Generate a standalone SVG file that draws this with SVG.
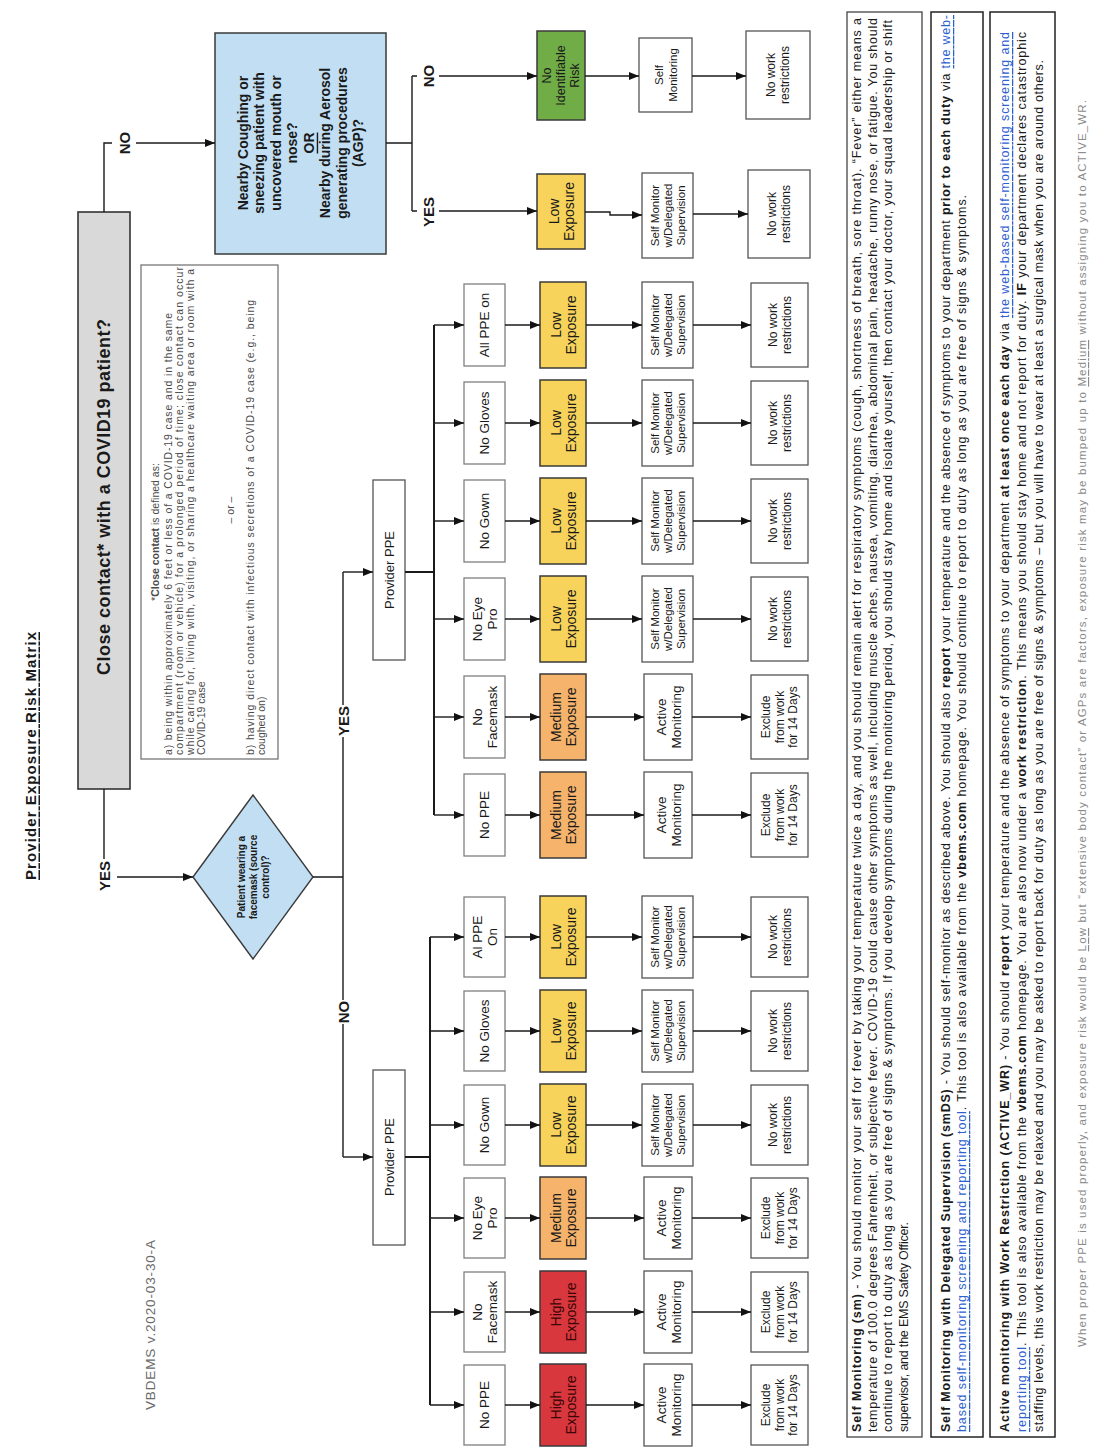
<svg xmlns="http://www.w3.org/2000/svg" width="1106" height="1456" viewBox="0 0 1106 1456">
<defs>
<marker id="ah" viewBox="0 0 10 8" refX="10" refY="4" markerWidth="10" markerHeight="8" markerUnits="userSpaceOnUse" orient="auto"><path d="M0,0 L10,4 L0,8 z" fill="#111"/></marker>
<style>
text{font-family:"Liberation Sans",Arial,sans-serif;fill:#1a1a1a;dominant-baseline:central}
.c{text-anchor:middle}
.ln{fill:none;stroke:#1a1a1a;stroke-width:1.4}
.arr{marker-end:url(#ah)}
.cond{fill:#fff;stroke:#7f7f7f;stroke-width:1.3}
.mon{fill:#fff;stroke:#555;stroke-width:1.3}
.low{fill:#f7d35b;stroke:#3a3a3a;stroke-width:1.5}
.med{fill:#f5b36b;stroke:#3a3a3a;stroke-width:1.5}
.high{fill:#d8373d;stroke:#3a3a3a;stroke-width:1.5}
.green{fill:#70ad47;stroke:#3a3a3a;stroke-width:1.5}
.blue{fill:#c2def3;stroke:#3a3a3a;stroke-width:1.5}
.fc{font-size:13.5px}
.fe{font-size:14px}
.fa{font-size:13.5px}
.fs{font-size:11.5px}
.fr{font-size:12px}
.lab{font-size:15px;font-weight:bold}
.b{font-weight:bold}
.u{text-decoration:underline}
.note{font-size:10.5px;fill:#4a4a4a}
.doc{font-size:12.5px;fill:#1a1a1a}
.lnk{fill:#2f5fd0;text-decoration:underline}
.ht{fill:#3a0606}
</style>
</defs>
<rect x="0" y="0" width="1106" height="1456" fill="#fff"/>

<!-- Title and version -->
<g id="title"><text class="c b u" style="font-size:15px" transform="translate(30,756) rotate(-90)" textLength="248" lengthAdjust="spacing">Provider Exposure Risk Matrix</text></g>
<g id="version"><text class="c" style="font-size:13.5px;fill:#6a6a6a" transform="translate(150,1325) rotate(-90)" textLength="170" lengthAdjust="spacing">VBDEMS v.2020-03-30-A</text></g>

<!-- Main question -->
<g id="n-close"><rect x="78" y="212" width="52" height="577" fill="#d9d9d9" stroke="#333" stroke-width="1.6"/>
<text class="c b" style="font-size:18px" transform="translate(104,497) rotate(-90)" textLength="356" lengthAdjust="spacing">Close contact* with a COVID19 patient?</text></g>

<!-- Definition note -->
<g id="n-note"><rect x="141" y="265" width="137" height="494" fill="#fff" stroke="#777" stroke-width="1.3"/>
<text class="c note" transform="translate(155,532) rotate(-90)">*<tspan class="b">Close contact</tspan> is defined as:</text>
<text class="note" transform="translate(168,755) rotate(-90)" textLength="442" lengthAdjust="spacing">a) being within approximately 6 feet or less of a COVID-19 case and in the same</text>
<text class="note" transform="translate(179,755) rotate(-90)" textLength="488" lengthAdjust="spacing">compartment (room or vehicle) for a prolonged period of time; close contact can occur</text>
<text class="note" transform="translate(190,755) rotate(-90)" textLength="486" lengthAdjust="spacing">while caring for, living with, visiting, or sharing a healthcare waiting area or room with a</text>
<text class="note" transform="translate(201,755) rotate(-90)">COVID-19 case</text>
<text class="c note" transform="translate(230,510) rotate(-90)">– or –</text>
<text class="note" transform="translate(250,755) rotate(-90)" textLength="455" lengthAdjust="spacing">b) having direct contact with infectious secretions of a COVID-19 case (e.g., being</text>
<text class="note" transform="translate(261,755) rotate(-90)">coughed on)</text></g>

<!-- Nearby question -->
<g id="n-nearby"><rect class="blue" x="215" y="33" width="171" height="221"/>
<text class="c b" style="font-size:14px" transform="translate(300.5,143) rotate(-90)"><tspan x="0" y="-57.75">Nearby Coughing or</tspan><tspan x="0" y="-41.25">sneezing patient with</tspan><tspan x="0" y="-24.75">uncovered mouth or</tspan><tspan x="0" y="-8.25">nose?</tspan><tspan x="0" y="8.25" class="u">OR</tspan><tspan x="0" y="24.75">Nearby during Aerosol</tspan><tspan x="0" y="41.25">generating procedures</tspan><tspan x="0" y="57.75">(AGP)?</tspan></text></g>

<!-- Facemask diamond -->
<g id="n-diamond"><polygon points="193,877 253,795 313,877 253,959" fill="#c2def3" stroke="#3a3a3a" stroke-width="1.4"/>
<text class="c b" style="font-size:10px" transform="translate(253,877) rotate(-90)"><tspan x="0" y="-12">Patient wearing a</tspan><tspan x="0" y="0">facemask (source</tspan><tspan x="0" y="12">control)?</tspan></text></g>

<!-- Nearby outcomes -->
<g id="n-nir"><rect class="green" x="537" y="31" width="48" height="89"/>
<text class="c" style="font-size:12.5px" transform="translate(561,75.5) rotate(-90)"><tspan x="0" y="-14">No</tspan><tspan x="0" y="0">Identifiable</tspan><tspan x="0" y="14">Risk</tspan></text></g>
<g id="n-selfmon"><rect class="mon" x="639" y="38" width="53" height="74"/>
<text class="c fs" transform="translate(665.5,75) rotate(-90)"><tspan x="0" y="-7">Self</tspan><tspan x="0" y="7">Monitoring</tspan></text></g>
<g id="n-nowork-a"><rect class="mon" x="746" y="31" width="64" height="88"/>
<text class="c fr" transform="translate(778,75) rotate(-90)"><tspan x="0" y="-7">No work</tspan><tspan x="0" y="7">restrictions</tspan></text></g>
<g id="n-low-a"><rect class="low" x="537" y="174" width="48" height="75"/>
<text class="c fe" transform="translate(561,211.5) rotate(-90)"><tspan x="0" y="-7.5">Low</tspan><tspan x="0" y="7.5">Exposure</tspan></text></g>
<g id="n-smds-a"><rect class="mon" x="642" y="173" width="51" height="85"/>
<text class="c fs" transform="translate(667.5,215.5) rotate(-90)"><tspan x="0" y="-13">Self Monitor</tspan><tspan x="0" y="0">w/Delegated</tspan><tspan x="0" y="13">Supervision</tspan></text></g>
<g id="n-nowork-b"><rect class="mon" x="748" y="170" width="62" height="88"/>
<text class="c fr" transform="translate(779,214) rotate(-90)"><tspan x="0" y="-7">No work</tspan><tspan x="0" y="7">restrictions</tspan></text></g>

<!-- Provider PPE boxes -->
<g id="n-ppe-yes"><rect class="mon" x="373" y="480" width="32" height="180"/>
<text class="c" style="font-size:13px" transform="translate(389,570) rotate(-90)">Provider PPE</text></g>
<g id="n-ppe-no"><rect class="mon" x="373" y="1070" width="32" height="175"/>
<text class="c" style="font-size:13px" transform="translate(389,1157) rotate(-90)">Provider PPE</text></g>

<!-- YES branch rows -->
<g id="y1-cond"><rect class="cond" x="464" y="284" width="41" height="82"/><text class="c fc" transform="translate(484.5,325) rotate(-90)">All PPE on</text></g>
<g id="y1-exp"><rect class="low" x="540" y="282" width="46" height="86"/><text class="c fe" transform="translate(563,325) rotate(-90)"><tspan x="0" y="-7.5">Low</tspan><tspan x="0" y="7.5">Exposure</tspan></text></g>
<g id="y1-mon"><rect class="mon" x="642" y="282" width="51" height="86"/><text class="c fs" transform="translate(667.5,325) rotate(-90)"><tspan x="0" y="-13">Self Monitor</tspan><tspan x="0" y="0">w/Delegated</tspan><tspan x="0" y="13">Supervision</tspan></text></g>
<g id="y1-res"><rect class="mon" x="751" y="283" width="57" height="84"/><text class="c fr" transform="translate(779.5,325) rotate(-90)"><tspan x="0" y="-7">No work</tspan><tspan x="0" y="7">restrictions</tspan></text></g>

<g id="y2-cond"><rect class="cond" x="464" y="382" width="41" height="82"/><text class="c fc" transform="translate(484.5,423) rotate(-90)">No Gloves</text></g>
<g id="y2-exp"><rect class="low" x="540" y="380" width="46" height="86"/><text class="c fe" transform="translate(563,423) rotate(-90)"><tspan x="0" y="-7.5">Low</tspan><tspan x="0" y="7.5">Exposure</tspan></text></g>
<g id="y2-mon"><rect class="mon" x="642" y="380" width="51" height="86"/><text class="c fs" transform="translate(667.5,423) rotate(-90)"><tspan x="0" y="-13">Self Monitor</tspan><tspan x="0" y="0">w/Delegated</tspan><tspan x="0" y="13">Supervision</tspan></text></g>
<g id="y2-res"><rect class="mon" x="751" y="381" width="57" height="84"/><text class="c fr" transform="translate(779.5,423) rotate(-90)"><tspan x="0" y="-7">No work</tspan><tspan x="0" y="7">restrictions</tspan></text></g>

<g id="y3-cond"><rect class="cond" x="464" y="480" width="41" height="82"/><text class="c fc" transform="translate(484.5,521) rotate(-90)">No Gown</text></g>
<g id="y3-exp"><rect class="low" x="540" y="478" width="46" height="86"/><text class="c fe" transform="translate(563,521) rotate(-90)"><tspan x="0" y="-7.5">Low</tspan><tspan x="0" y="7.5">Exposure</tspan></text></g>
<g id="y3-mon"><rect class="mon" x="642" y="478" width="51" height="86"/><text class="c fs" transform="translate(667.5,521) rotate(-90)"><tspan x="0" y="-13">Self Monitor</tspan><tspan x="0" y="0">w/Delegated</tspan><tspan x="0" y="13">Supervision</tspan></text></g>
<g id="y3-res"><rect class="mon" x="751" y="479" width="57" height="84"/><text class="c fr" transform="translate(779.5,521) rotate(-90)"><tspan x="0" y="-7">No work</tspan><tspan x="0" y="7">restrictions</tspan></text></g>

<g id="y4-cond"><rect class="cond" x="464" y="578" width="41" height="82"/><text class="c fc" transform="translate(484.5,619) rotate(-90)"><tspan x="0" y="-7.5">No Eye</tspan><tspan x="0" y="7.5">Pro</tspan></text></g>
<g id="y4-exp"><rect class="low" x="540" y="576" width="46" height="86"/><text class="c fe" transform="translate(563,619) rotate(-90)"><tspan x="0" y="-7.5">Low</tspan><tspan x="0" y="7.5">Exposure</tspan></text></g>
<g id="y4-mon"><rect class="mon" x="642" y="576" width="51" height="86"/><text class="c fs" transform="translate(667.5,619) rotate(-90)"><tspan x="0" y="-13">Self Monitor</tspan><tspan x="0" y="0">w/Delegated</tspan><tspan x="0" y="13">Supervision</tspan></text></g>
<g id="y4-res"><rect class="mon" x="751" y="577" width="57" height="84"/><text class="c fr" transform="translate(779.5,619) rotate(-90)"><tspan x="0" y="-7">No work</tspan><tspan x="0" y="7">restrictions</tspan></text></g>

<g id="y5-cond"><rect class="cond" x="464" y="676" width="41" height="82"/><text class="c fc" transform="translate(484.5,717) rotate(-90)"><tspan x="0" y="-7.5">No</tspan><tspan x="0" y="7.5">Facemask</tspan></text></g>
<g id="y5-exp"><rect class="med" x="540" y="674" width="46" height="86"/><text class="c fe" transform="translate(563,717) rotate(-90)"><tspan x="0" y="-7.5">Medium</tspan><tspan x="0" y="7.5">Exposure</tspan></text></g>
<g id="y5-mon"><rect class="mon" x="644" y="674" width="48" height="86"/><text class="c fa" transform="translate(668,717) rotate(-90)"><tspan x="0" y="-7.5">Active</tspan><tspan x="0" y="7.5">Monitoring</tspan></text></g>
<g id="y5-res"><rect class="mon" x="751" y="675" width="57" height="84"/><text class="c fr" transform="translate(779.5,717) rotate(-90)"><tspan x="0" y="-13.5">Exclude</tspan><tspan x="0" y="0">from work</tspan><tspan x="0" y="13.5">for 14 Days</tspan></text></g>

<g id="y6-cond"><rect class="cond" x="464" y="774" width="41" height="82"/><text class="c fc" transform="translate(484.5,815) rotate(-90)">No PPE</text></g>
<g id="y6-exp"><rect class="med" x="540" y="772" width="46" height="86"/><text class="c fe" transform="translate(563,815) rotate(-90)"><tspan x="0" y="-7.5">Medium</tspan><tspan x="0" y="7.5">Exposure</tspan></text></g>
<g id="y6-mon"><rect class="mon" x="644" y="772" width="48" height="86"/><text class="c fa" transform="translate(668,815) rotate(-90)"><tspan x="0" y="-7.5">Active</tspan><tspan x="0" y="7.5">Monitoring</tspan></text></g>
<g id="y6-res"><rect class="mon" x="751" y="773" width="57" height="84"/><text class="c fr" transform="translate(779.5,815) rotate(-90)"><tspan x="0" y="-13.5">Exclude</tspan><tspan x="0" y="0">from work</tspan><tspan x="0" y="13.5">for 14 Days</tspan></text></g>

<!-- NO branch rows -->
<g id="n1-cond"><rect class="cond" x="464" y="897" width="41" height="80"/><text class="c fc" transform="translate(484.5,937) rotate(-90)"><tspan x="0" y="-7.5">Al PPE</tspan><tspan x="0" y="7.5">On</tspan></text></g>
<g id="n1-exp"><rect class="low" x="540" y="896" width="46" height="82"/><text class="c fe" transform="translate(563,937) rotate(-90)"><tspan x="0" y="-7.5">Low</tspan><tspan x="0" y="7.5">Exposure</tspan></text></g>
<g id="n1-mon"><rect class="mon" x="642" y="896" width="51" height="82"/><text class="c fs" transform="translate(667.5,937) rotate(-90)"><tspan x="0" y="-13">Self Monitor</tspan><tspan x="0" y="0">w/Delegated</tspan><tspan x="0" y="13">Supervision</tspan></text></g>
<g id="n1-res"><rect class="mon" x="751" y="897" width="57" height="80"/><text class="c fr" transform="translate(779.5,937) rotate(-90)"><tspan x="0" y="-7">No work</tspan><tspan x="0" y="7">restrictions</tspan></text></g>

<g id="n2-cond"><rect class="cond" x="464" y="991" width="41" height="80"/><text class="c fc" transform="translate(484.5,1031) rotate(-90)">No Gloves</text></g>
<g id="n2-exp"><rect class="low" x="540" y="990" width="46" height="82"/><text class="c fe" transform="translate(563,1031) rotate(-90)"><tspan x="0" y="-7.5">Low</tspan><tspan x="0" y="7.5">Exposure</tspan></text></g>
<g id="n2-mon"><rect class="mon" x="642" y="990" width="51" height="82"/><text class="c fs" transform="translate(667.5,1031) rotate(-90)"><tspan x="0" y="-13">Self Monitor</tspan><tspan x="0" y="0">w/Delegated</tspan><tspan x="0" y="13">Supervision</tspan></text></g>
<g id="n2-res"><rect class="mon" x="751" y="991" width="57" height="80"/><text class="c fr" transform="translate(779.5,1031) rotate(-90)"><tspan x="0" y="-7">No work</tspan><tspan x="0" y="7">restrictions</tspan></text></g>

<g id="n3-cond"><rect class="cond" x="464" y="1085" width="41" height="80"/><text class="c fc" transform="translate(484.5,1125) rotate(-90)">No Gown</text></g>
<g id="n3-exp"><rect class="low" x="540" y="1084" width="46" height="82"/><text class="c fe" transform="translate(563,1125) rotate(-90)"><tspan x="0" y="-7.5">Low</tspan><tspan x="0" y="7.5">Exposure</tspan></text></g>
<g id="n3-mon"><rect class="mon" x="642" y="1084" width="51" height="82"/><text class="c fs" transform="translate(667.5,1125) rotate(-90)"><tspan x="0" y="-13">Self Monitor</tspan><tspan x="0" y="0">w/Delegated</tspan><tspan x="0" y="13">Supervision</tspan></text></g>
<g id="n3-res"><rect class="mon" x="751" y="1085" width="57" height="80"/><text class="c fr" transform="translate(779.5,1125) rotate(-90)"><tspan x="0" y="-7">No work</tspan><tspan x="0" y="7">restrictions</tspan></text></g>

<g id="n4-cond"><rect class="cond" x="464" y="1178" width="41" height="80"/><text class="c fc" transform="translate(484.5,1218) rotate(-90)"><tspan x="0" y="-7.5">No Eye</tspan><tspan x="0" y="7.5">Pro</tspan></text></g>
<g id="n4-exp"><rect class="med" x="540" y="1177" width="46" height="82"/><text class="c fe" transform="translate(563,1218) rotate(-90)"><tspan x="0" y="-7.5">Medium</tspan><tspan x="0" y="7.5">Exposure</tspan></text></g>
<g id="n4-mon"><rect class="mon" x="644" y="1177" width="48" height="82"/><text class="c fa" transform="translate(668,1218) rotate(-90)"><tspan x="0" y="-7.5">Active</tspan><tspan x="0" y="7.5">Monitoring</tspan></text></g>
<g id="n4-res"><rect class="mon" x="751" y="1178" width="57" height="80"/><text class="c fr" transform="translate(779.5,1218) rotate(-90)"><tspan x="0" y="-13.5">Exclude</tspan><tspan x="0" y="0">from work</tspan><tspan x="0" y="13.5">for 14 Days</tspan></text></g>

<g id="n5-cond"><rect class="cond" x="464" y="1272" width="41" height="80"/><text class="c fc" transform="translate(484.5,1312) rotate(-90)"><tspan x="0" y="-7.5">No</tspan><tspan x="0" y="7.5">Facemask</tspan></text></g>
<g id="n5-exp"><rect class="high" x="540" y="1271" width="46" height="82"/><text class="c fe ht" transform="translate(563,1312) rotate(-90)"><tspan x="0" y="-7.5">High</tspan><tspan x="0" y="7.5">Exposure</tspan></text></g>
<g id="n5-mon"><rect class="mon" x="644" y="1271" width="48" height="82"/><text class="c fa" transform="translate(668,1312) rotate(-90)"><tspan x="0" y="-7.5">Active</tspan><tspan x="0" y="7.5">Monitoring</tspan></text></g>
<g id="n5-res"><rect class="mon" x="751" y="1272" width="57" height="80"/><text class="c fr" transform="translate(779.5,1312) rotate(-90)"><tspan x="0" y="-13.5">Exclude</tspan><tspan x="0" y="0">from work</tspan><tspan x="0" y="13.5">for 14 Days</tspan></text></g>

<g id="n6-cond"><rect class="cond" x="464" y="1365" width="41" height="80"/><text class="c fc" transform="translate(484.5,1405) rotate(-90)">No PPE</text></g>
<g id="n6-exp"><rect class="high" x="540" y="1364" width="46" height="82"/><text class="c fe ht" transform="translate(563,1405) rotate(-90)"><tspan x="0" y="-7.5">High</tspan><tspan x="0" y="7.5">Exposure</tspan></text></g>
<g id="n6-mon"><rect class="mon" x="644" y="1364" width="48" height="82"/><text class="c fa" transform="translate(668,1405) rotate(-90)"><tspan x="0" y="-7.5">Active</tspan><tspan x="0" y="7.5">Monitoring</tspan></text></g>
<g id="n6-res"><rect class="mon" x="751" y="1365" width="57" height="80"/><text class="c fr" transform="translate(779.5,1405) rotate(-90)"><tspan x="0" y="-13.5">Exclude</tspan><tspan x="0" y="0">from work</tspan><tspan x="0" y="13.5">for 14 Days</tspan></text></g>

<!-- Connectors -->
<g id="connectors">
<path class="ln" d="M104,212 V143 H112"/>
<path class="ln arr" d="M136,143 H215"/>
<path class="ln" d="M104,789 V859"/>
<path class="ln arr" d="M117,877 H193"/>
<path class="ln" d="M386,143 H412 M412,76 V211 M412,76 H417 M412,211 H417"/>
<path class="ln arr" d="M439,76 H537"/>
<path class="ln arr" d="M439,211 H537"/>
<path class="ln arr" d="M585,76 H639"/>
<path class="ln arr" d="M692,76 H746"/>
<path class="ln arr" d="M585,212 H610 V215 H642"/>
<path class="ln arr" d="M693,214 H748"/>
<path class="ln" d="M313,877 H343 M343,572 V705 M343,737 V1000 M343,1024 V1157"/>
<path class="ln arr" d="M343,572 H373"/>
<path class="ln arr" d="M343,1157 H373"/>
<path class="ln" style="stroke-width:2" d="M405,572 H434 M434,325 V815"/>
<path class="ln arr" d="M434,325 H464"/><path class="ln arr" d="M505,325 H540"/><path class="ln arr" d="M586,325 H642"/><path class="ln arr" d="M693,325 H751"/>
<path class="ln arr" d="M434,423 H464"/><path class="ln arr" d="M505,423 H540"/><path class="ln arr" d="M586,423 H642"/><path class="ln arr" d="M693,423 H751"/>
<path class="ln arr" d="M434,521 H464"/><path class="ln arr" d="M505,521 H540"/><path class="ln arr" d="M586,521 H642"/><path class="ln arr" d="M693,521 H751"/>
<path class="ln arr" d="M434,619 H464"/><path class="ln arr" d="M505,619 H540"/><path class="ln arr" d="M586,619 H642"/><path class="ln arr" d="M693,619 H751"/>
<path class="ln arr" d="M434,717 H464"/><path class="ln arr" d="M505,717 H540"/><path class="ln arr" d="M586,717 H644"/><path class="ln arr" d="M692,717 H751"/>
<path class="ln arr" d="M434,815 H464"/><path class="ln arr" d="M505,815 H540"/><path class="ln arr" d="M586,815 H644"/><path class="ln arr" d="M692,815 H751"/>
<path class="ln" style="stroke-width:2" d="M405,1157 H430 M430,937 V1405"/>
<path class="ln arr" d="M430,937 H464"/><path class="ln arr" d="M505,937 H540"/><path class="ln arr" d="M586,937 H642"/><path class="ln arr" d="M693,937 H751"/>
<path class="ln arr" d="M430,1031 H464"/><path class="ln arr" d="M505,1031 H540"/><path class="ln arr" d="M586,1031 H642"/><path class="ln arr" d="M693,1031 H751"/>
<path class="ln arr" d="M430,1125 H464"/><path class="ln arr" d="M505,1125 H540"/><path class="ln arr" d="M586,1125 H642"/><path class="ln arr" d="M693,1125 H751"/>
<path class="ln arr" d="M430,1218 H464"/><path class="ln arr" d="M505,1218 H540"/><path class="ln arr" d="M586,1218 H644"/><path class="ln arr" d="M692,1218 H751"/>
<path class="ln arr" d="M430,1312 H464"/><path class="ln arr" d="M505,1312 H540"/><path class="ln arr" d="M586,1312 H644"/><path class="ln arr" d="M692,1312 H751"/>
<path class="ln arr" d="M430,1405 H464"/><path class="ln arr" d="M505,1405 H540"/><path class="ln arr" d="M586,1405 H644"/><path class="ln arr" d="M692,1405 H751"/>
<text class="c lab" transform="translate(124,143) rotate(-90)">NO</text>
<text class="c lab" transform="translate(104,876) rotate(-90)">YES</text>
<text class="c lab" transform="translate(428,76) rotate(-90)">NO</text>
<text class="c lab" transform="translate(428,212) rotate(-90)">YES</text>
<text class="c lab" transform="translate(343,721) rotate(-90)">YES</text>
<text class="c lab" transform="translate(343,1012) rotate(-90)">NO</text>
</g>

<!-- Explanation boxes -->
<g id="n-def-sm"><rect x="847" y="12" width="75" height="1425" fill="#fff" stroke="#444" stroke-width="1.3"/>
<text class="doc" transform="translate(857,1432) rotate(-90)" textLength="1414" lengthAdjust="spacing"><tspan class="b">Self Monitoring (sm)</tspan> - You should monitor your self for fever by taking your temperature twice a day, and you should remain alert for respiratory symptoms (cough, shortness of breath, sore throat).  “Fever” either means a</text>
<text class="doc" transform="translate(872.5,1432) rotate(-90)" textLength="1414" lengthAdjust="spacing">temperature of 100.0 degrees Fahrenheit, or subjective fever.  COVID-19 could cause other symptoms as well, including muscle aches, nausea, vomiting, diarrhea, abdominal pain, headache, runny nose, or fatigue.  You should</text>
<text class="doc" transform="translate(888,1432) rotate(-90)" textLength="1412" lengthAdjust="spacing">continue to report to duty as long as you are free of signs &amp; symptoms.  If you develop symptoms during the monitoring period, you should stay home and isolate yourself, then contact your doctor, your squad leadership or shift</text>
<text class="doc" transform="translate(903.5,1432) rotate(-90)" textLength="210" lengthAdjust="spacing">supervisor, and the EMS Safety Officer.</text></g>

<g id="n-def-smds"><rect x="931" y="12" width="52" height="1425" fill="#fff" stroke="#222" stroke-width="1.5"/>
<text class="doc" transform="translate(946,1432) rotate(-90)" textLength="1417" lengthAdjust="spacing"><tspan class="b">Self Monitoring with Delegated Supervision (smDS)</tspan> - You should self-monitor as described above.  You should also <tspan class="b">report</tspan> your temperature and the absence of symptoms to your department <tspan class="b">prior to each duty</tspan> via <tspan class="lnk">the web-</tspan></text>
<text class="doc" transform="translate(962,1432) rotate(-90)" textLength="1237" lengthAdjust="spacing"><tspan class="lnk">based self-monitoring screening and reporting tool</tspan>.  This tool is also available from the <tspan class="b">vbems.com</tspan> homepage.  You should continue to report to duty as long as you are free of signs &amp; symptoms.</text></g>

<g id="n-def-active"><rect x="990" y="12" width="65" height="1425" fill="#fff" stroke="#222" stroke-width="1.5"/>
<text class="doc" transform="translate(1005,1432) rotate(-90)" textLength="1400" lengthAdjust="spacing"><tspan class="b">Active monitoring with Work Restriction (ACTIVE_WR)</tspan> - You should <tspan class="b">report</tspan> your temperature and the absence of symptoms to your department <tspan class="b">at least once each day</tspan> via <tspan class="lnk">the web-based self-monitoring screening and</tspan></text>
<text class="doc" transform="translate(1022,1432) rotate(-90)" textLength="1400" lengthAdjust="spacing"><tspan class="lnk">reporting tool</tspan>.  This tool is also available from the <tspan class="b">vbems.com</tspan> homepage.  You are also now under a <tspan class="b">work restriction</tspan>.  This means you should stay home and not report for duty.  <tspan class="b">IF</tspan> your department declares catastrophic</text>
<text class="doc" transform="translate(1039,1432) rotate(-90)" textLength="1372" lengthAdjust="spacing">staffing levels, this work restriction may be relaxed and you may be asked to report back for duty as long as you are free of signs &amp; symptoms – but you will have to wear at least a surgical mask when you are around others.</text></g>

<g id="footer"><text style="font-size:11.5px;fill:#8a8a8a" transform="translate(1082,1347) rotate(-90)" textLength="1247" lengthAdjust="spacing">When proper PPE is used properly, and exposure risk would be <tspan class="u">Low</tspan> but “extensive body contact” or AGPs are factors, exposure risk may be bumped up to <tspan class="u">Medium</tspan> without assigning you to ACTIVE_WR.</text></g>
</svg>
